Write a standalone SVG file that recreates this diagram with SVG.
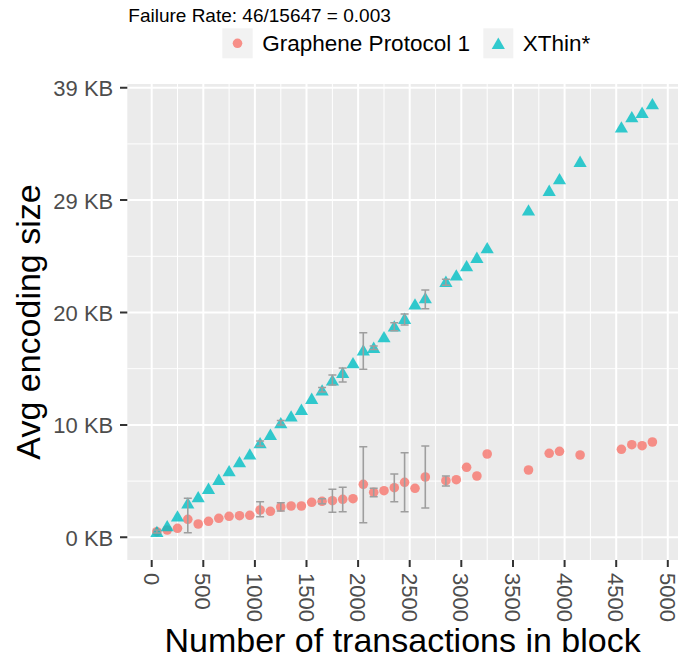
<svg xmlns="http://www.w3.org/2000/svg" width="678" height="662" viewBox="0 0 678 662">
<style>
text{font-family:"Liberation Sans",Arial,sans-serif}
.ttl{font-size:19px;fill:#000}
.leg{font-size:22.5px;fill:#000}
.ytl{font-size:22px;fill:#4D4D4D;text-anchor:end}
.xtl{font-size:22px;fill:#4D4D4D}
.axt{font-size:34px;fill:#000;text-anchor:middle}
.gmaj{stroke:#FFFFFF;stroke-width:2;fill:none}
.gmin{stroke:#FFFFFF;stroke-width:1;fill:none}
.tick{stroke:#333333;stroke-width:2;fill:none}
.gp{fill:#F8766D;fill-opacity:0.8}
.xt{fill:#00BFC4;fill-opacity:0.8}
.eb{stroke:#9E9E9E;stroke-width:1.6;fill:none}
</style>
<defs>
<path id="tri" d="M0,-5.8 L6.6,5.6 L-6.6,5.6 Z"/>
</defs>
<rect width="678" height="662" fill="#FFFFFF"/>
<g id="title"><text class="ttl" x="128.3" y="21.7">Failure Rate: 46/15647 = 0.003</text></g>
<g id="legend">
<g id="legend-graphene">
<rect x="222.3" y="28.3" width="30.4" height="30" fill="#F2F2F2"/>
<circle class="gp" cx="237.5" cy="43.3" r="4.8"/>
<text class="leg" x="262.3" y="50.5">Graphene Protocol 1</text>
</g>
<g id="legend-xthin">
<rect x="483.3" y="28.3" width="30" height="30" fill="#F2F2F2"/>
<use href="#tri" class="xt" x="498.3" y="43.3"/>
<text class="leg" x="522.7" y="50.5">XThin*</text>
</g>
</g>
<g id="panel">
<rect x="127.3" y="84" width="550.7" height="476" fill="#EBEBEB"/>
<path class="gmin" d="M127.3,481.1H678M127.3,368.7H678M127.3,256.3H678M127.3,143.9H678M177.5,84V560M229.1,84V560M280.8,84V560M332.4,84V560M384,84V560M435.6,84V560M487.2,84V560M538.8,84V560M590.4,84V560M642.1,84V560"/>
<path class="gmaj" d="M127.3,537.3H678M127.3,424.9H678M127.3,312.5H678M127.3,200.1H678M127.3,87.7H678M151.7,84V560M203.3,84V560M254.9,84V560M306.5,84V560M358.1,84V560M409.7,84V560M461.3,84V560M513,84V560M564.6,84V560M616.2,84V560M667.8,84V560"/>
</g>
<g id="axes">
<path class="tick" d="M120,537.3H127.3M120,424.9H127.3M120,312.5H127.3M120,200.1H127.3M120,87.7H127.3M151.7,560V567M203.3,560V567M254.9,560V567M306.5,560V567M358.1,560V567M409.7,560V567M461.3,560V567M513,560V567M564.6,560V567M616.2,560V567M667.8,560V567"/>
<text class="ytl" x="113.3" y="545.8">0 KB</text>
<text class="ytl" x="113.3" y="433.4">10 KB</text>
<text class="ytl" x="113.3" y="321">20 KB</text>
<text class="ytl" x="113.3" y="208.6">29 KB</text>
<text class="ytl" x="113.3" y="96.2">39 KB</text>
<text class="xtl" transform="translate(143.8,573) rotate(90)">0</text>
<text class="xtl" transform="translate(195.4,573) rotate(90)">500</text>
<text class="xtl" transform="translate(247,573) rotate(90)">1000</text>
<text class="xtl" transform="translate(298.6,573) rotate(90)">1500</text>
<text class="xtl" transform="translate(350.2,573) rotate(90)">2000</text>
<text class="xtl" transform="translate(401.8,573) rotate(90)">2500</text>
<text class="xtl" transform="translate(453.4,573) rotate(90)">3000</text>
<text class="xtl" transform="translate(505.1,573) rotate(90)">3500</text>
<text class="xtl" transform="translate(556.7,573) rotate(90)">4000</text>
<text class="xtl" transform="translate(608.3,573) rotate(90)">4500</text>
<text class="xtl" transform="translate(659.9,573) rotate(90)">5000</text>
<text class="axt" x="402.6" y="652">Number of transactions in block</text>
<text class="axt" transform="translate(40,322) rotate(-90)">Avg encoding size</text>
</g>
<g id="series-graphene">
<circle class="gp" cx="156.9" cy="531.7" r="4.8"/>
<circle class="gp" cx="167.2" cy="530" r="4.8"/>
<circle class="gp" cx="177.5" cy="528.3" r="4.8"/>
<circle class="gp" cx="187.8" cy="519.3" r="4.8"/>
<circle class="gp" cx="198.2" cy="524" r="4.8"/>
<circle class="gp" cx="208.5" cy="521.3" r="4.8"/>
<circle class="gp" cx="218.8" cy="518.3" r="4.8"/>
<circle class="gp" cx="229.1" cy="516.3" r="4.8"/>
<circle class="gp" cx="239.5" cy="515.7" r="4.8"/>
<circle class="gp" cx="249.8" cy="515.3" r="4.8"/>
<circle class="gp" cx="260.1" cy="510" r="4.8"/>
<circle class="gp" cx="270.4" cy="511.3" r="4.8"/>
<circle class="gp" cx="280.8" cy="507" r="4.8"/>
<circle class="gp" cx="291.1" cy="506" r="4.8"/>
<circle class="gp" cx="301.4" cy="506" r="4.8"/>
<circle class="gp" cx="311.7" cy="502.3" r="4.8"/>
<circle class="gp" cx="322.1" cy="501.3" r="4.8"/>
<circle class="gp" cx="332.4" cy="500.7" r="4.8"/>
<circle class="gp" cx="342.7" cy="499.3" r="4.8"/>
<circle class="gp" cx="353" cy="498.7" r="4.8"/>
<circle class="gp" cx="363.3" cy="484.3" r="4.8"/>
<circle class="gp" cx="373.7" cy="492.3" r="4.8"/>
<circle class="gp" cx="384" cy="490.7" r="4.8"/>
<circle class="gp" cx="394.3" cy="487.7" r="4.8"/>
<circle class="gp" cx="404.6" cy="482.3" r="4.8"/>
<circle class="gp" cx="415" cy="488.3" r="4.8"/>
<circle class="gp" cx="425.3" cy="477" r="4.8"/>
<circle class="gp" cx="445.9" cy="480.7" r="4.8"/>
<circle class="gp" cx="456.3" cy="479.7" r="4.8"/>
<circle class="gp" cx="466.6" cy="467.3" r="4.8"/>
<circle class="gp" cx="476.9" cy="476" r="4.8"/>
<circle class="gp" cx="487.2" cy="454" r="4.8"/>
<circle class="gp" cx="528.5" cy="470" r="4.8"/>
<circle class="gp" cx="549.2" cy="453.3" r="4.8"/>
<circle class="gp" cx="559.5" cy="451.3" r="4.8"/>
<circle class="gp" cx="580.1" cy="455" r="4.8"/>
<circle class="gp" cx="621.4" cy="449.3" r="4.8"/>
<circle class="gp" cx="631.8" cy="444.7" r="4.8"/>
<circle class="gp" cx="642.1" cy="445.7" r="4.8"/>
<circle class="gp" cx="652.4" cy="442" r="4.8"/>
</g>
<g id="series-xthin">
<use href="#tri" class="xt" x="156.9" y="531.5"/>
<use href="#tri" class="xt" x="167.2" y="525.7"/>
<use href="#tri" class="xt" x="177.5" y="516"/>
<use href="#tri" class="xt" x="187.8" y="503"/>
<use href="#tri" class="xt" x="198.2" y="496.7"/>
<use href="#tri" class="xt" x="208.5" y="488.3"/>
<use href="#tri" class="xt" x="218.8" y="479.3"/>
<use href="#tri" class="xt" x="229.1" y="470.7"/>
<use href="#tri" class="xt" x="239.5" y="461.7"/>
<use href="#tri" class="xt" x="249.8" y="454"/>
<use href="#tri" class="xt" x="260.1" y="442.7"/>
<use href="#tri" class="xt" x="270.4" y="434.3"/>
<use href="#tri" class="xt" x="280.8" y="422.7"/>
<use href="#tri" class="xt" x="291.1" y="416"/>
<use href="#tri" class="xt" x="301.4" y="409.3"/>
<use href="#tri" class="xt" x="311.7" y="398.3"/>
<use href="#tri" class="xt" x="322.1" y="390"/>
<use href="#tri" class="xt" x="332.4" y="380"/>
<use href="#tri" class="xt" x="342.7" y="372.5"/>
<use href="#tri" class="xt" x="353" y="362.7"/>
<use href="#tri" class="xt" x="363.3" y="350"/>
<use href="#tri" class="xt" x="373.7" y="347.3"/>
<use href="#tri" class="xt" x="384" y="336.7"/>
<use href="#tri" class="xt" x="394.3" y="326"/>
<use href="#tri" class="xt" x="404.6" y="318.3"/>
<use href="#tri" class="xt" x="415" y="304"/>
<use href="#tri" class="xt" x="425.3" y="297.7"/>
<use href="#tri" class="xt" x="445.9" y="281.3"/>
<use href="#tri" class="xt" x="456.3" y="275"/>
<use href="#tri" class="xt" x="466.6" y="265.7"/>
<use href="#tri" class="xt" x="476.9" y="257.3"/>
<use href="#tri" class="xt" x="487.2" y="247.7"/>
<use href="#tri" class="xt" x="528.5" y="210"/>
<use href="#tri" class="xt" x="549.2" y="190.3"/>
<use href="#tri" class="xt" x="559.5" y="178.7"/>
<use href="#tri" class="xt" x="580.1" y="161.3"/>
<use href="#tri" class="xt" x="621.4" y="127"/>
<use href="#tri" class="xt" x="631.8" y="116.7"/>
<use href="#tri" class="xt" x="642.1" y="112.3"/>
<use href="#tri" class="xt" x="652.4" y="103.7"/>
</g>
<g id="errorbars">
<path class="eb" d="M183.8,498.3H191.8M187.8,498.3V532.7M183.8,532.7H191.8
M256.1,501.7H264.1M260.1,501.7V516.7M256.1,516.7H264.1
M276.8,502.7H284.8M280.8,502.7V511M276.8,511H284.8
M318.1,498.8H326.1M322.1,498.8V503.8M318.1,503.8H326.1
M328.4,489.3H336.4M332.4,489.3V512.3M328.4,512.3H336.4
M338.7,487.3H346.7M342.7,487.3V511.7M338.7,511.7H346.7
M359.3,446.7H367.3M363.3,446.7V522.7M359.3,522.7H367.3
M369.7,488.3H377.7M373.7,488.3V496.7M369.7,496.7H377.7
M390.3,474H398.3M394.3,474V501.7M390.3,501.7H398.3
M400.6,452.7H408.6M404.6,452.7V511.7M400.6,511.7H408.6
M421.3,446H429.3M425.3,446V508M421.3,508H429.3
M441.9,476H449.9M445.9,476V486M441.9,486H449.9
M152.9,530H160.9M156.9,530V533M152.9,533H160.9
M256.1,441H264.1M260.1,441V446M256.1,446H264.1
M276.8,420.5H284.8M280.8,420.5V425M276.8,425H284.8
M318.1,387.5H326.1M322.1,387.5V392M318.1,392H326.1
M328.4,375H336.4M332.4,375V385M328.4,385H336.4
M338.7,368H346.7M342.7,368V382M338.7,382H346.7
M359.3,332.7H367.3M363.3,332.7V369.3M359.3,369.3H367.3
M369.7,346H377.7M373.7,346V349.5M369.7,349.5H377.7
M390.3,322.7H398.3M394.3,322.7V330.7M390.3,330.7H398.3
M400.6,314H408.6M404.6,314V325M400.6,325H408.6
M421.3,290H429.3M425.3,290V308.7M421.3,308.7H429.3
M441.9,279.3H449.9M445.9,279.3V285.3M441.9,285.3H449.9"/>
</g>
</svg>
